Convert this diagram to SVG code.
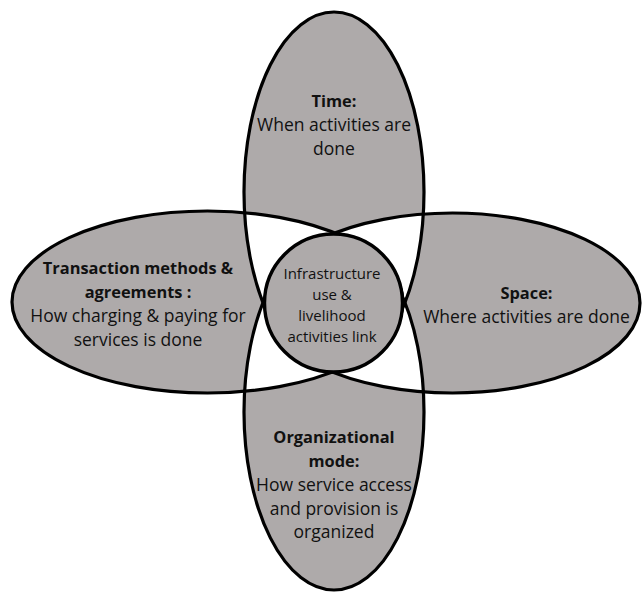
<svg xmlns="http://www.w3.org/2000/svg" width="642" height="594" viewBox="0 0 642 594">
  <style>
    .outline { fill: none; stroke: #000; stroke-width: 3.2; }
    .shade { fill: #AEAAAA; fill-rule: evenodd; stroke: none; }
    .hub { fill: #AEAAAA; stroke: #000; stroke-width: 3.4; }
    text { font-family: "Open Sans", "Noto Sans", "Liberation Sans", sans-serif; fill: #111; text-anchor: middle; }
    .label { font-size: 17.5px; }
    .title { font-size: 16.4px; font-weight: bold; }
    .small { font-size: 15px; }
  </style>

  <!-- Petal shading: single areas grey, pairwise overlaps left white -->
  <g id="shading">
    <path class="shade" d="
      M244,192 a90,180 0 1,0 180,0 a90,180 0 1,0 -180,0 z
      M244,412 a90,178 0 1,0 180,0 a90,178 0 1,0 -180,0 z
      M12,302 a195.5,91 0 1,0 391,0 a195.5,91 0 1,0 -391,0 z
      M265,303 a187.5,90 0 1,0 375,0 a187.5,90 0 1,0 -375,0 z"/>
  </g>

  <g id="time">
    <ellipse class="outline" cx="334" cy="192" rx="90" ry="180"/>
    <text class="title" x="334" y="107">Time:</text>
    <text class="label" x="334" y="131">When activities are</text>
    <text class="label" x="334" y="155">done</text>
  </g>

  <g id="organizational-mode">
    <ellipse class="outline" cx="334" cy="412" rx="90" ry="178"/>
    <text class="title" x="334" y="443">Organizational</text>
    <text class="title" x="334" y="467">mode:</text>
    <text class="label" x="334" y="491">How service access</text>
    <text class="label" x="334" y="515">and provision is</text>
    <text class="label" x="334" y="538">organized</text>
  </g>

  <g id="transaction-methods">
    <ellipse class="outline" cx="207.5" cy="302" rx="195.5" ry="91"/>
    <text class="title" x="138" y="274">Transaction methods &amp;</text>
    <text class="title" x="138" y="298">agreements :</text>
    <text class="label" x="138" y="322">How charging &amp; paying for</text>
    <text class="label" x="138" y="346">services is done</text>
  </g>

  <g id="space">
    <ellipse class="outline" cx="452.5" cy="303" rx="187.5" ry="90"/>
    <text class="title" x="526.5" y="299">Space:</text>
    <text class="label" x="526.5" y="323">Where activities are done</text>
  </g>

  <g id="infrastructure-link">
    <circle class="hub" cx="333.5" cy="303" r="69"/>
    <text class="small" x="332" y="279">Infrastructure</text>
    <text class="small" x="332" y="300">use &amp;</text>
    <text class="small" x="332" y="321">livelihood</text>
    <text class="small" x="332" y="342">activities link</text>
  </g>
</svg>
